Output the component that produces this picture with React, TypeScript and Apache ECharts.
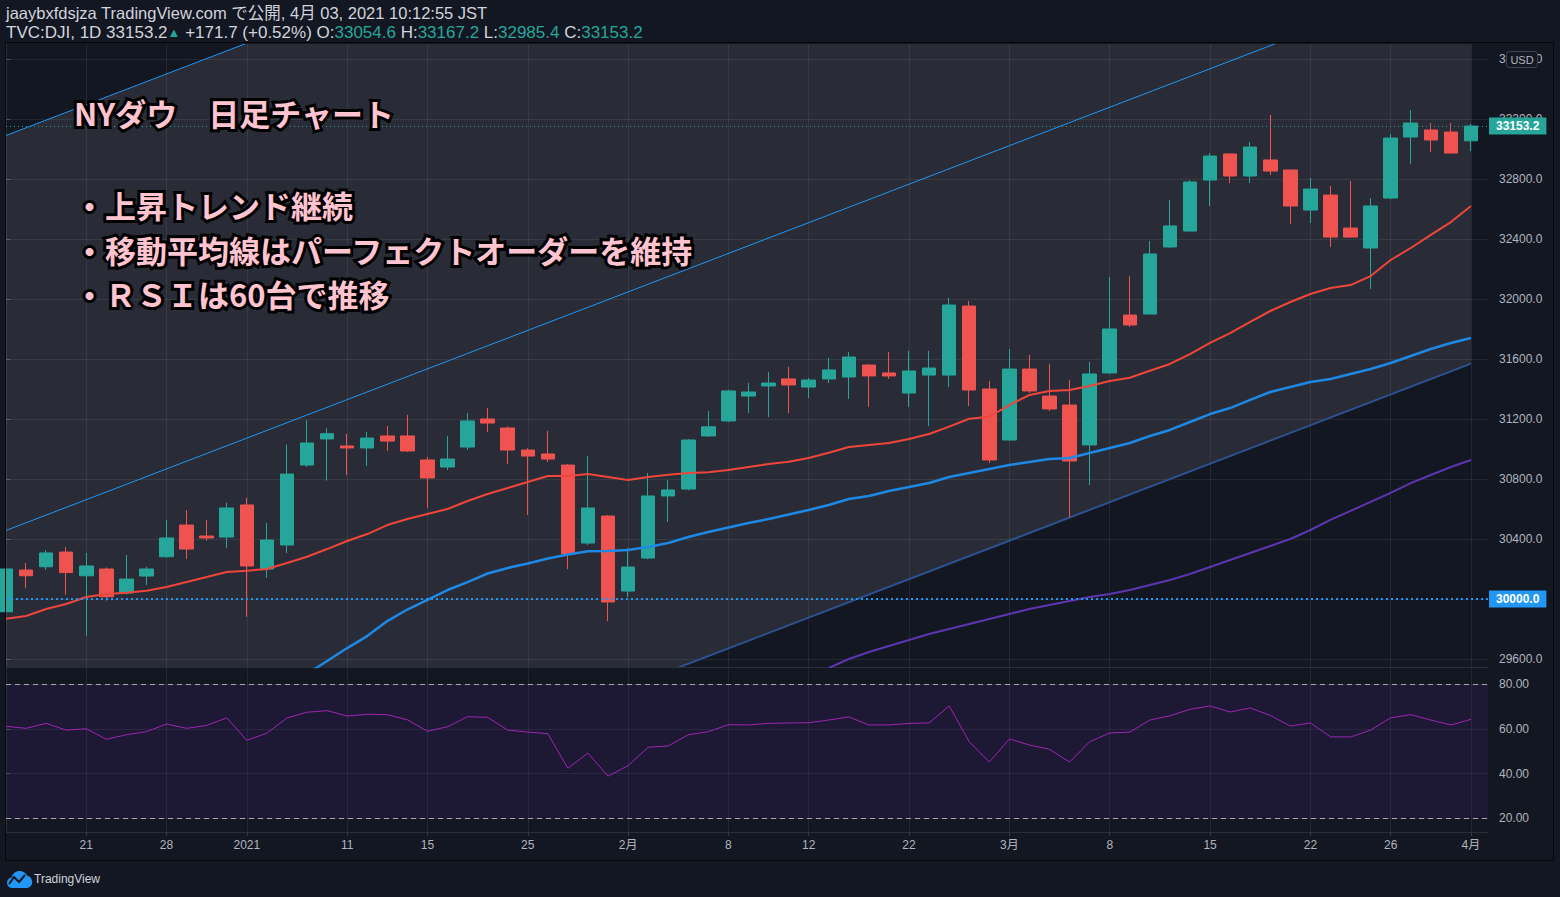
import React, { useEffect, useRef } from 'react';
import * as echarts from 'echarts';

// ---- data ----
const dates = [
  '2020-12-15','2020-12-16','2020-12-17','2020-12-18','2020-12-21','2020-12-22','2020-12-23','2020-12-24','2020-12-28','2020-12-29','2020-12-30','2020-12-31',
  '2021-01-04','2021-01-05','2021-01-06','2021-01-07','2021-01-08','2021-01-11','2021-01-12','2021-01-13','2021-01-14','2021-01-15','2021-01-19','2021-01-20','2021-01-21','2021-01-22','2021-01-25','2021-01-26','2021-01-27','2021-01-28','2021-01-29',
  '2021-02-01','2021-02-02','2021-02-03','2021-02-04','2021-02-05','2021-02-08','2021-02-09','2021-02-10','2021-02-11','2021-02-12','2021-02-16','2021-02-17','2021-02-18','2021-02-19','2021-02-22','2021-02-23','2021-02-24','2021-02-25','2021-02-26',
  '2021-03-01','2021-03-02','2021-03-03','2021-03-04','2021-03-05','2021-03-08','2021-03-09','2021-03-10','2021-03-11','2021-03-12','2021-03-15','2021-03-16','2021-03-17','2021-03-18','2021-03-19','2021-03-22','2021-03-23','2021-03-24','2021-03-25','2021-03-26','2021-03-29','2021-03-30','2021-03-31',
  '2021-04-01'
];
const opens = [29915,30193,30215,30313,30155,30200,30040,30153,30282,30493,30420,30413,30627,30200,30360,30893,31067,31020,31007,31087,31087,30927,30880,31013,31200,31140,30993,30967,30893,30373,30553,30053,30273,30687,30733,31087,31187,31353,31420,31467,31413,31467,31480,31560,31507,31373,31493,31493,31953,31400,31060,31533,31353,31293,31027,31507,31893,31900,32347,32453,32793,32967,32820,32927,32860,32593,32693,32473,32340,32673,33080,33127,33113,33054.6];
const highs = [30230,30240,30327,30347,30307,30210,30293,30215,30527,30593,30527,30642,30673,30507,31029,31193,31140,31100,31113,31153,31227,30947,31087,31240,31273,31150,31005,31120,30900,30953,30560,30340,30840,30793,31067,31253,31395,31440,31513,31547,31473,31607,31647,31565,31647,31653,31653,32007,31987,31453,31667,31627,31567,31460,31580,32147,32153,32387,32660,32793,32973,32970,33047,33227,32865,32807,32753,32787,32673,33100,33260,33173,33173,33167.2];
const lows = [29880,30073,30195,30029,29755,29989,30030,30093,30275,30267,30389,30340,29882,30142,30307,30880,30789,30827,30887,30987,30980,30607,30860,30993,31113,30900,30560,30913,30200,30360,29853,30013,30265,30513,30725,31080,31180,31240,31213,31240,31340,31440,31333,31280,31467,31280,31153,31413,31287,30907,31055,31373,31253,30547,30760,31500,31813,31895,32340,32450,32620,32773,32773,32827,32500,32507,32347,32410,32067,32665,32900,32980,32973,32985.4];
const closes = [30200,30155,30307,30176,30220,30015,30133,30200,30407,30333,30407,30607,30220,30393,30833,31040,31102,31007,31073,31053,30987,30807,30933,31187,31173,30993,30953,30933,30300,30607,29980,30213,30687,30727,31060,31148,31387,31380,31440,31427,31460,31527,31613,31487,31487,31520,31540,31960,31393,30927,31533,31387,31267,30920,31500,31800,31827,32300,32487,32780,32953,32820,33013,32853,32620,32733,32413,32413,32620,33073,33173,33060,32973,33153.2];
const ma25 = [29869,29887,29933,29967,30013,30033,30042,30055,30080,30113,30147,30180,30189,30200,30240,30282,30333,30387,30433,30493,30533,30567,30600,30653,30700,30740,30780,30820,30820,30833,30813,30793,30813,30829,30840,30845,30860,30880,30900,30915,30940,30975,31013,31027,31040,31067,31100,31149,31202,31215,31293,31360,31387,31393,31420,31453,31475,31522,31567,31633,31707,31773,31847,31920,31980,32033,32073,32093,32153,32260,32340,32427,32513,32620];
const ma75 = [null,null,null,null,null,null,null,null,null,null,null,null,null,null,null,29500,29587,29673,29753,29853,29930,29995,30060,30113,30170,30207,30237,30270,30297,30318,30320,30327,30347,30373,30413,30447,30477,30507,30533,30563,30593,30627,30667,30687,30720,30747,30773,30813,30840,30867,30893,30913,30933,30940,30973,31007,31040,31087,31127,31180,31233,31273,31327,31380,31413,31447,31467,31500,31533,31573,31620,31667,31707,31740];
const ma200 = [null,null,null,null,null,null,null,null,null,null,null,null,null,null,null,null,null,null,null,null,null,null,null,null,null,null,null,null,null,null,null,null,null,null,null,null,null,null,null,null,null,29540,29600,29647,29687,29727,29767,29800,29833,29867,29900,29933,29960,29987,30013,30033,30060,30093,30127,30167,30213,30260,30307,30353,30400,30460,30527,30587,30647,30707,30773,30827,30880,30927];
const rsi = [61.2,60.3,62.5,59.5,60.1,55.4,57.4,58.8,62.2,60.3,61.6,65.0,54.9,58.1,64.9,67.5,68.2,65.8,66.6,66.4,64.1,59.0,61.0,65.5,65.2,59.5,58.6,57.9,42.4,49.2,38.9,43.6,51.8,52.4,57.4,58.8,61.9,61.8,62.5,62.7,62.8,64.0,65.4,61.8,61.8,62.5,62.7,70.3,54.3,45.2,55.5,52.8,50.9,45.2,54.3,58.2,58.6,64.0,65.9,68.8,70.3,67.6,69.4,66.1,61.3,62.7,56.5,56.4,59.5,65.0,66.4,64.0,61.8,64.3];

const timeTickIdx = [4, 8, 12, 17, 21, 26, 31, 36, 40, 45, 50, 55, 60, 65, 69, 73];
const timeTickLabels = ['21', '28', '2021', '11', '15', '25', '2月', '8', '12', '22', '3月', '8', '15', '22', '26', '4月'];
const priceTicks = [29600, 30000, 30400, 30800, 31200, 31600, 32000, 32400, 32800, 33200, 33600];
const rsiTicks = [20, 40, 60, 80];
const rsiBand = [20, 80];
const lastPrice = 33153.2;
const levelPrice = 30000;
// parallel channel (bar index, price)
const channelX = [-1, 73];
const channelMid = [30405.7, 34201.9];
const channelHalf = 2633;

const FONT = '"Liberation Sans", "Noto Sans CJK JP", sans-serif';
const AXIS_TEXT = '#b2b5be';
const GRID = 'rgba(255,255,255,0.07)';

export default function App() {
  const ref = useRef<HTMLDivElement>(null);
  useEffect(() => {
    if (!ref.current) return;
    echarts.graphic.registerShape(
      'tvlogo',
      echarts.graphic.extendPath(
        'M5 18C2.2 18 0 15.8 0 13C0 10.4 1.9 8.3 4.4 8C5.3 4.6 8.3 2 12 2C15 2 17.6 3.7 18.9 6.2C21.8 6.8 24 9.4 24 12.5C24 15.5 21.5 18 18.5 18Z',
        {}
      )
    );
    const chart = echarts.init(ref.current, null, { renderer: 'svg' });

    const candleData = dates.map((_, i) => [i, opens[i], closes[i], lows[i], highs[i]]);
    const toLine = (arr: (number | null)[]) =>
      arr.map((v, i) => [i, v]).filter((p) => p[1] !== null);
    const xMax = 73.85;

    const lineLabel = (text: string, bg: string) => ({
      show: true,
      position: 'end',
      distance: 1,
      formatter: text,
      color: '#ffffff',
      backgroundColor: bg,
      padding: [2, 7, 2, 7],
      lineHeight: 13,
      fontSize: 12,
      fontWeight: 'bold',
      fontFamily: FONT,
    });

    const option: any = {
      animation: false,
      backgroundColor: '#131722',
      grid: [
        { left: 6, top: 44, width: 1482, height: 623 },
        { left: 6, top: 668, width: 1482, height: 164 },
      ],
      xAxis: [
        {
          gridIndex: 0, type: 'value', min: 0, max: xMax,
          axisLine: { show: true, onZero: false, lineStyle: { color: '#2a2e39' } },
          axisTick: { show: false, customValues: timeTickIdx },
          axisLabel: { show: false },
          splitLine: { show: true, lineStyle: { color: GRID, width: 1 } },
        },
        {
          gridIndex: 1, type: 'value', min: 0, max: xMax,
          axisLine: { show: true, onZero: false, lineStyle: { color: '#2a2e39' } },
          axisTick: { show: true, length: 4, customValues: timeTickIdx, lineStyle: { color: '#363a45' } },
          axisLabel: {
            show: true,
            customValues: timeTickIdx,
            color: AXIS_TEXT, fontSize: 12, fontFamily: FONT, margin: 7,
            formatter: (v: number) => {
              const k = timeTickIdx.indexOf(Math.round(v));
              return k >= 0 ? timeTickLabels[k] : '';
            },
          },
          splitLine: { show: true, lineStyle: { color: GRID, width: 1 } },
        },
      ],
      yAxis: [
        {
          gridIndex: 0, type: 'value', position: 'right', min: 29546.7, max: 33700,
          axisLine: { show: true, lineStyle: { color: '#2a2e39' } },
          axisTick: { show: true, length: 4, customValues: priceTicks, lineStyle: { color: '#50535e' } },
          axisLabel: {
            customValues: priceTicks, color: AXIS_TEXT, fontSize: 12, fontFamily: FONT, margin: 11,
            formatter: (v: number) => v.toFixed(1),
          },
          splitLine: { show: true, lineStyle: { color: GRID, width: 1 } },
        },
        {
          gridIndex: 1, type: 'value', position: 'right', min: 13.87, max: 87.3,
          axisLine: { show: true, lineStyle: { color: '#2a2e39' } },
          axisTick: { show: true, length: 4, customValues: rsiTicks, lineStyle: { color: '#50535e' } },
          axisLabel: {
            customValues: rsiTicks, color: AXIS_TEXT, fontSize: 12, fontFamily: FONT, margin: 11,
            formatter: (v: number) => v.toFixed(2),
          },
          splitLine: { show: true, lineStyle: { color: GRID, width: 1 } },
        },
      ],
      series: [
        {
          type: 'custom', name: 'channel', xAxisIndex: 0, yAxisIndex: 0, clip: true, silent: true, z: 1,
          data: [[0]],
          renderItem: (_p: any, api: any) => {
            const uA = api.coord([channelX[0], channelMid[0] + channelHalf]);
            const uB = api.coord([channelX[1], channelMid[1] + channelHalf]);
            const mA = api.coord([channelX[0], channelMid[0]]);
            const mB = api.coord([channelX[1], channelMid[1]]);
            const lA = api.coord([channelX[0], channelMid[0] - channelHalf]);
            const lB = api.coord([channelX[1], channelMid[1] - channelHalf]);
            return {
              type: 'group',
              children: [
                { type: 'polygon', shape: { points: [uA, uB, lB, lA] }, style: { fill: 'rgba(255,255,255,0.095)' } },
                { type: 'line', shape: { x1: uA[0], y1: uA[1], x2: uB[0], y2: uB[1] }, style: { stroke: '#2196f3', lineWidth: 1 } },
                { type: 'line', shape: { x1: mA[0], y1: mA[1], x2: mB[0], y2: mB[1] }, style: { stroke: '#2196f3', lineWidth: 1 } },
                { type: 'line', shape: { x1: lA[0], y1: lA[1], x2: lB[0], y2: lB[1] }, style: { stroke: '#2c5290', lineWidth: 2 } },
              ],
            };
          },
        },
        {
          type: 'candlestick', name: 'DJI', xAxisIndex: 0, yAxisIndex: 0, z: 3,
          data: candleData,
          encode: { x: 0, y: [1, 2, 3, 4] },
          barWidth: 14,
          itemStyle: {
            color: '#26a69a', color0: '#ef5350',
            borderColor: '#26a69a', borderColor0: '#ef5350', borderWidth: 1,
          },
          markLine: {
            silent: true, symbol: ['none', 'none'], animation: false, precision: 1,
            data: [
              { yAxis: lastPrice, lineStyle: { color: '#26a69a', type: [1, 3], width: 1 }, label: lineLabel(lastPrice.toFixed(1), '#26a69a') },
              { yAxis: levelPrice, lineStyle: { color: '#2196f3', type: [2, 3], width: 2 }, label: lineLabel(levelPrice.toFixed(1), '#2196f3') },
            ],
          },
        },
        {
          type: 'line', name: 'MA25', xAxisIndex: 0, yAxisIndex: 0, z: 4,
          data: toLine(ma25), showSymbol: false, silent: true,
          lineStyle: { color: '#f0453a', width: 2 },
        },
        {
          type: 'line', name: 'MA75', xAxisIndex: 0, yAxisIndex: 0, z: 4,
          data: toLine(ma75), showSymbol: false, silent: true,
          lineStyle: { color: '#1e88e5', width: 2.5 },
        },
        {
          type: 'line', name: 'MA200', xAxisIndex: 0, yAxisIndex: 0, z: 4,
          data: toLine(ma200), showSymbol: false, silent: true,
          lineStyle: { color: '#5e35b1', width: 2 },
        },
        {
          type: 'line', name: 'RSI', xAxisIndex: 1, yAxisIndex: 1, z: 4,
          data: toLine(rsi), showSymbol: false, silent: true,
          lineStyle: { color: '#9c27b0', width: 1 },
          markArea: {
            silent: true,
            itemStyle: { color: 'rgba(110,40,190,0.12)' },
            data: [[{ yAxis: rsiBand[1] }, { yAxis: rsiBand[0] }]],
          },
          markLine: {
            silent: true, symbol: ['none', 'none'], animation: false,
            label: { show: false },
            lineStyle: { color: '#a3a6af', type: [5, 4], width: 1 },
            data: [{ yAxis: rsiBand[1] }, { yAxis: rsiBand[0] }],
          },
        },
      ],
      graphic: [
        {
          type: 'text', x: 6, y: 13, z: 10,
          style: {
            text: 'jaaybxfdsjza TradingView.com で公開, 4月 03, 2021 10:12:55 JST',
            fill: '#d1d4dc', font: '16.5px ' + FONT, verticalAlign: 'middle',
          },
        },
        {
          type: 'text', x: 6, y: 32, z: 10,
          style: {
            text: '{w|TVC:DJI, 1D 33153.2}{t|▲}{w| +171.7 (+0.52%) O:}{g|33054.6}{w| H:}{g|33167.2}{w| L:}{g|32985.4}{w| C:}{g|33153.2}',
            verticalAlign: 'middle',
            font: '17px ' + FONT,
            rich: {
              w: { fill: '#d1d4dc', fontSize: 17, fontFamily: FONT },
              g: { fill: '#26a69a', fontSize: 17, fontFamily: FONT },
              t: { fill: '#26a69a', fontSize: 13, fontFamily: FONT },
            },
          },
        },
        ...[
          { t: 'NYダウ　日足チャート', y: 112 },
          { t: '・上昇トレンド継続', y: 204 },
          { t: '・移動平均線はパーフェクトオーダーを維持', y: 249 },
          { t: '・ＲＳＩは60台で推移', y: 293 },
        ].map((o) => ({
          type: 'text', x: 74, y: o.y, z: 20,
          style: {
            text: o.t,
            font: 'bold 31px "Noto Sans CJK JP", sans-serif',
            fill: '#ffc4cf', stroke: '#000000', lineWidth: 6,
            verticalAlign: 'middle',
          },
        })),
        {
          type: 'rect', z: 20,
          shape: { x: 1506.5, y: 51.5, width: 31, height: 16, r: 3 },
          style: { fill: '#131722', stroke: '#434651', lineWidth: 1 },
        },
        {
          type: 'text', x: 1522, y: 59.5, z: 21,
          style: { text: 'USD', fill: '#b2b5be', font: '11px ' + FONT, align: 'center', verticalAlign: 'middle' },
        },
        {
          type: 'rect', z: 19, silent: true,
          shape: { x: 5.5, y: 42.5, width: 1548, height: 818 },
          style: { fill: 'none', stroke: '#05070b', lineWidth: 1 },
        },
        { type: 'tvlogo', x: 7, y: 869, scaleX: 1.05, scaleY: 1.05, style: { fill: '#2196f3' }, z: 10 },
        {
          type: 'polyline', z: 11,
          shape: { points: [[9, 884], [14, 877], [19, 882], [25, 875]] },
          style: { stroke: '#131722', lineWidth: 2, fill: 'none' },
        },
        {
          type: 'text', x: 34, y: 879, z: 10,
          style: { text: 'TradingView', fill: '#d1d4dc', font: '12px ' + FONT, verticalAlign: 'middle' },
        },
      ],
    };
    chart.setOption(option);
    return () => chart.dispose();
  }, []);

  return (
    <div
      ref={ref}
      style={{ position: 'fixed', left: 0, top: 0, width: 1560, height: 897 }}
    />
  );
}
